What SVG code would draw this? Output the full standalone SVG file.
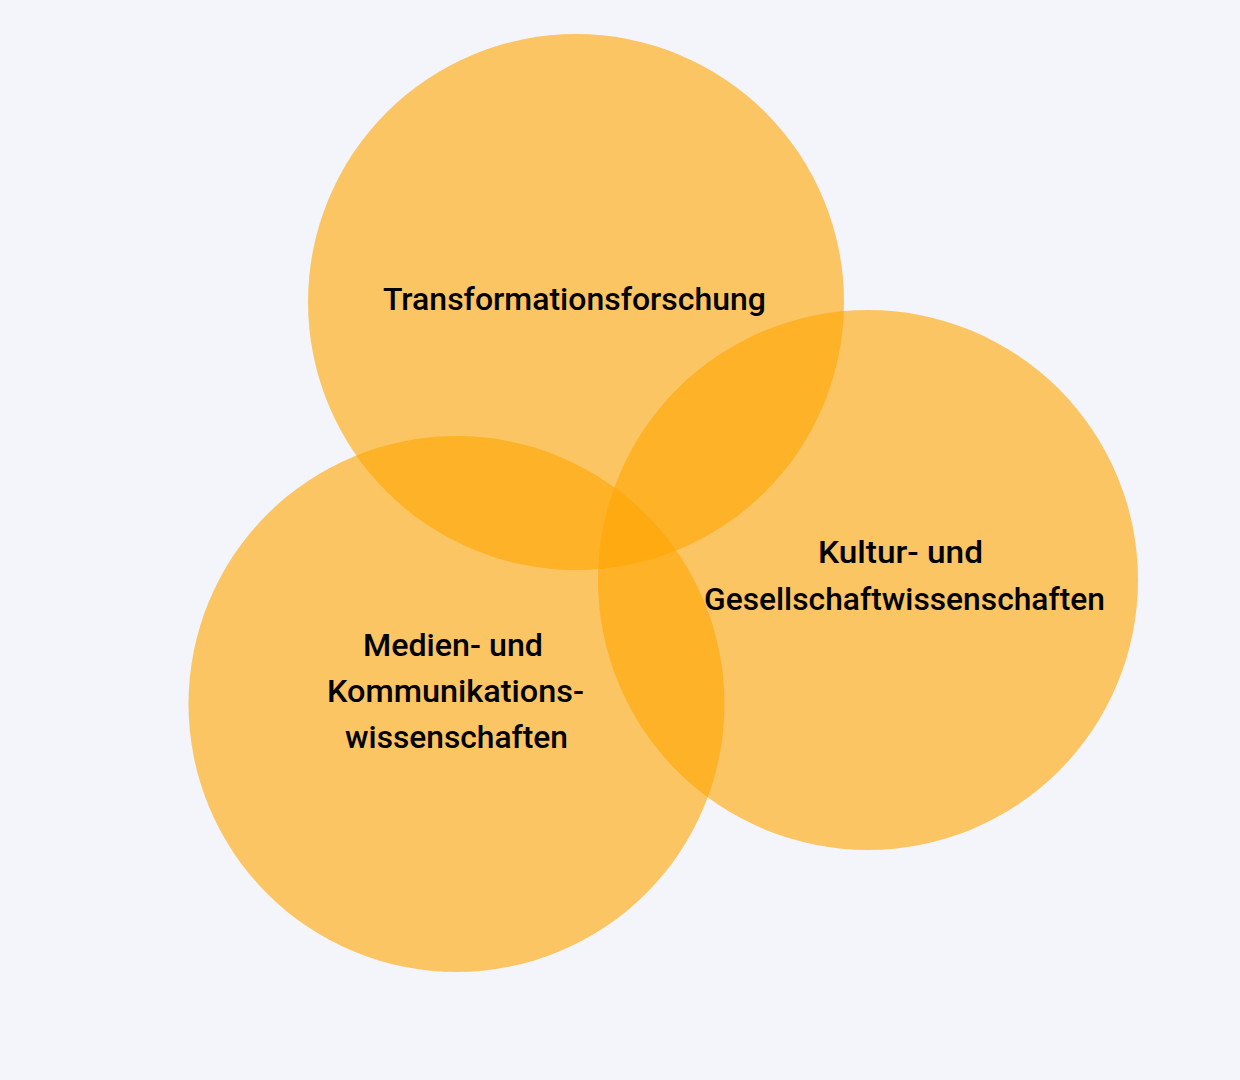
<svg xmlns="http://www.w3.org/2000/svg" width="1240" height="1080" viewBox="0 0 1240 1080">
<style>
.c{fill:#FFA500;fill-opacity:0.6}
.t{font-family:Roboto,"Noto Sans","Liberation Sans",sans-serif;font-size:31px;font-weight:500;fill:#000}
</style>
<rect width="1240" height="1080" fill="#F4F5FA"/>
<g id="circle-transformation"><circle class="c" cx="576" cy="302" r="268"/></g>
<g id="circle-medien"><circle class="c" cx="456.5" cy="704" r="268"/></g>
<g id="circle-kultur"><circle class="c" cx="868" cy="580" r="270"/></g>
<g id="label-transformation"><text class="t" x="383" y="310" textLength="383" lengthAdjust="spacingAndGlyphs">Transformationsforschung</text></g>
<g id="label-kultur">
<text class="t" x="818" y="563" textLength="165" lengthAdjust="spacingAndGlyphs">Kultur- und</text>
<text class="t" x="704" y="610" textLength="401" lengthAdjust="spacingAndGlyphs">Gesellschaftwissenschaften</text>
</g>
<g id="label-medien">
<text class="t" x="363" y="656" textLength="180" lengthAdjust="spacingAndGlyphs">Medien- und</text>
<text class="t" x="327" y="702" textLength="257" lengthAdjust="spacingAndGlyphs">Kommunikations-</text>
<text class="t" x="345" y="748" textLength="223" lengthAdjust="spacingAndGlyphs">wissenschaften</text>
</g>
<g id="connectors"/>
</svg>
